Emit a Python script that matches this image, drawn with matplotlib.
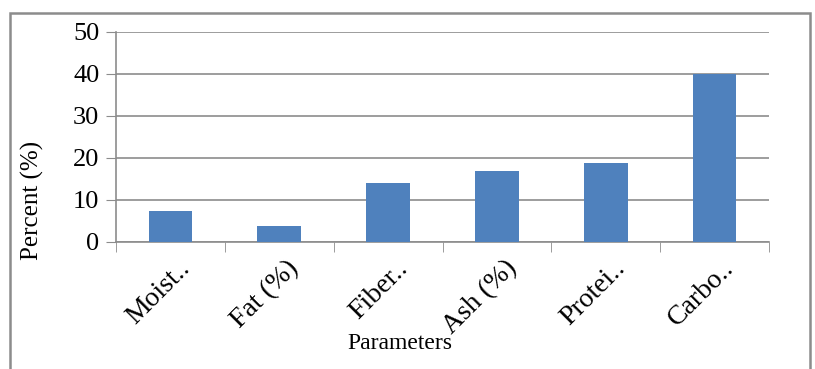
import numpy as np
import matplotlib.pyplot as plt
from matplotlib.patches import Rectangle
import matplotlib.transforms as mtransforms

categories = ["Moist..", "Fat (%)", "Fiber..", "Ash (%)", "Protei..", "Carbo.."]
values = [7.4, 3.7, 14.0, 16.8, 18.7, 39.9]

plt.rcParams["font.family"] = ["Liberation Serif", "DejaVu Serif"]

fig = plt.figure(figsize=(8.15, 3.69), dpi=100)
ax = fig.add_axes([116 / 815, 1 - 242 / 369, (769 - 116) / 815, (242 - 32) / 369])

x = np.arange(len(categories))
ax.bar(x, values, width=0.4, color="#4F81BD", zorder=3)

ax.set_xlim(-0.5, len(categories) - 0.5)
ax.set_ylim(0, 50)
ax.set_yticks(np.arange(0, 51, 10))
ax.yaxis.grid(True, color="#8c8c8c", linewidth=1.2)
ax.set_axisbelow(True)

for s in ["top", "right"]:
    ax.spines[s].set_visible(False)
ax.spines["left"].set_color("#8c8c8c")
ax.spines["bottom"].set_color("#8c8c8c")
ax.spines["left"].set_linewidth(1.2)
ax.spines["bottom"].set_linewidth(1.2)

ax.tick_params(axis="y", length=7, color="#8c8c8c", labelsize=19, pad=5)
ax.set_xticks(x)
ax.set_xticks(np.arange(-0.5, len(categories)), minor=True)
ax.tick_params(axis="x", which="major", length=0, labelsize=20, pad=10)
ax.tick_params(axis="x", which="minor", length=7, color="#8c8c8c")

offset = mtransforms.ScaledTranslation(0.07, 0, fig.dpi_scale_trans)
ax.set_xticklabels(categories, rotation=45, ha="right", rotation_mode="anchor")
for lbl in ax.get_xticklabels():
    lbl.set_transform(lbl.get_transform() + offset)

ax.set_ylabel("Percent (%)", fontsize=18)
ax.yaxis.set_label_coords(-0.11, 0.2)
ax.set_xlabel("Parameters", fontsize=17)
ax.xaxis.set_label_coords(0.435, -0.435)

# chart frame
fig.patches.append(Rectangle((10 / 815, -0.05), 800 / 815, 1.05 - 13 / 369,
                             transform=fig.transFigure, fill=False,
                             edgecolor="#8c8c8c", linewidth=1.8))

fig.savefig("out.png", dpi=100)
